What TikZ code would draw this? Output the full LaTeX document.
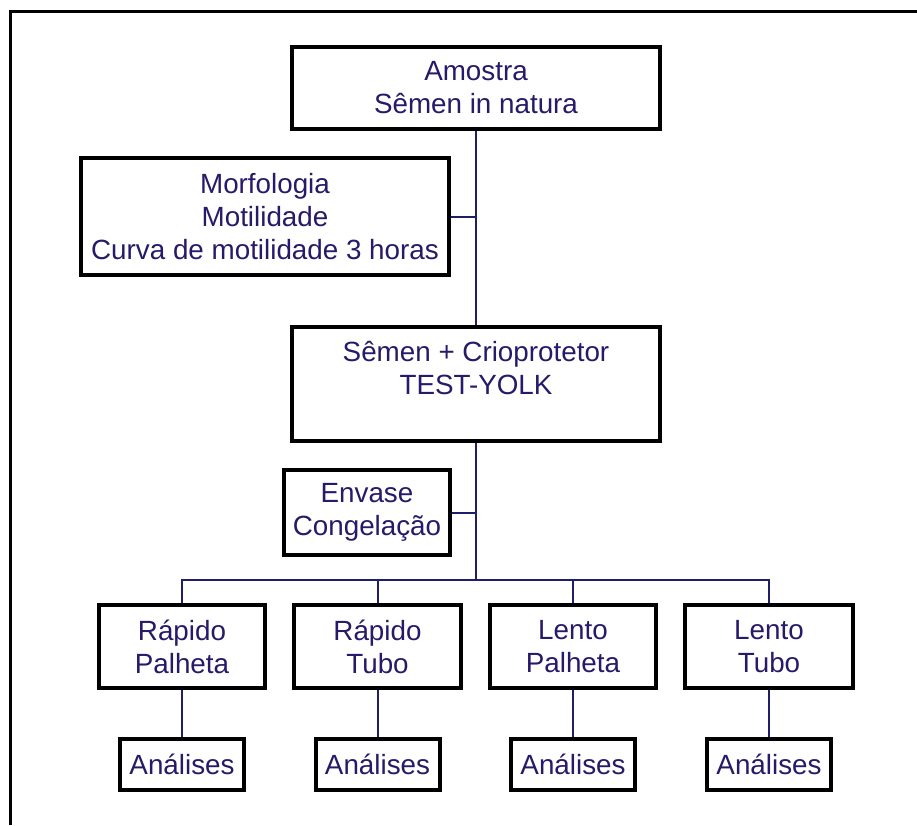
\documentclass[tikz,border=0pt]{standalone}
\usepackage{fontspec}
\setmainfont{Liberation Sans}
\definecolor{txtc}{RGB}{40,25,105}
\definecolor{linec}{RGB}{30,30,105}
\begin{document}
\begin{tikzpicture}[x=1pt,y=-1pt,
  box/.style={draw=black, line width=4pt, fill=white, align=center, text=txtc,
    font=\fontsize{27.8}{33}\selectfont, inner sep=0pt},
  plain/.style={align=center, text=txtc, font=\fontsize{27.8}{33}\selectfont, inner sep=0pt},
  link/.style={draw=linec, line width=2pt}]
\useasboundingbox (0,0) rectangle (917,825);
\fill[white] (0,0) rectangle (917,825);
\draw[line width=3pt] (10,825) -- (10,11) -- (917,11);

\node[box, minimum width=368, minimum height=82] (am) at (476,88) {Amostra\\Sêmen in natura};
\node[box, minimum width=368, minimum height=117] (morf) at (265,216.5) {Morfologia\\Motilidade\\Curva de motilidade 3 horas};
\node[box, minimum width=368, minimum height=114] (sem) at (476,384) {};
\node[plain] (semtxt) at (476,368) {Sêmen + Crioprotetor\\TEST-YOLK};
\node[box, minimum width=166, minimum height=85] (env) at (367,512.5) {Envase\\Congelação};

\node[box, minimum width=166, minimum height=83] (rp) at (182,646.5) {Rápido\\Palheta};
\node[box, minimum width=167, minimum height=83] (rt) at (377.5,646.5) {Rápido\\Tubo};
\node[box, minimum width=166, minimum height=83] (lp) at (573,646.5) {Lento\\Palheta};
\node[box, minimum width=168, minimum height=83] (lt) at (769,646.5) {Lento\\Tubo};

\node[box, minimum width=124, minimum height=51] (a1) at (182,764.5) {Análises};
\node[box, minimum width=124, minimum height=51] (a2) at (377.5,764.5) {Análises};
\node[box, minimum width=124, minimum height=51] (a3) at (573,764.5) {Análises};
\node[box, minimum width=124, minimum height=51] (a4) at (769,764.5) {Análises};

\coordinate (bus) at (476,580);

\draw[link] (am.south) -- (sem.north);
\draw[link] (morf.east) -- (morf.east -| am.south);
\draw[link] (sem.south) -- (bus);
\draw[link] (env.east) -- (env.east -| sem.south);
\draw[link] (rp.north) |- (bus) -| (lt.north);
\draw[link] (rt.north) |- (bus);
\draw[link] (lp.north) |- (bus);
\draw[link] (rp.south) -- (a1.north);
\draw[link] (rt.south) -- (a2.north);
\draw[link] (lp.south) -- (a3.north);
\draw[link] (lt.south) -- (a4.north);
\end{tikzpicture}
\end{document}
